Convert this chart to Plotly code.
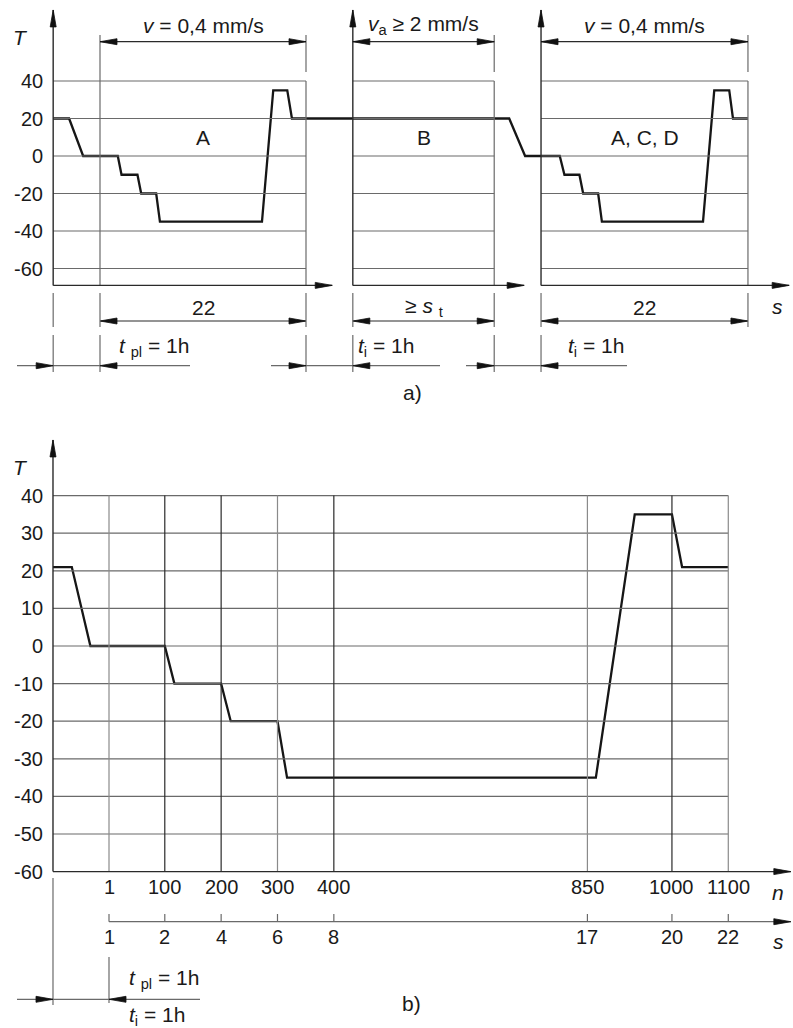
import plotly.graph_objects as go

W, H = 793, 1028

# ---------------- data: panel a (schematic, x in s-units, 22 = one run) -------------
A_T_TICKS = [40, 20, 0, -20, -40, -60]
A_SEG_AXIS = [-5.0, 27.0, 47.1]      # T axis of each block
A_SEG_START = [0.0, 27.0, 47.1]      # start of dimensioned span
A_SEG_END = [22.0, 42.1, 69.2]       # end of dimensioned span
A_AXIS_END = [24.8, 45.3, 73.6]      # arrow tips of the s axes
A_T_BOTTOM = -69
A_T_TOP = 77.9
A_U = [-5.0, -3.3, -1.8, 1.9, 2.3, 4.0, 4.4, 6.0, 6.4, 17.3, 18.5, 20.0, 20.5,
       43.7, 45.4, 49.1, 49.6, 51.2, 51.6, 53.2, 53.6, 64.4, 65.6, 67.2, 67.6, 69.2]
A_T = [20, 20, 0, 0, -10, -10, -20, -20, -35, -35, 35, 35, 20,
       20, 0, 0, -10, -10, -20, -20, -35, -35, 35, 35, 20, 20]
A_TOP_LABELS = ["<i>v</i> = 0,4 mm/s", "<i>v</i><sub>a</sub> ≥ 2 mm/s", "<i>v</i> = 0,4 mm/s"]
A_ZONE_LABELS = ["A", "B", "A, C, D"]
A_DIM_LABELS = ["22", "≥ <i>s</i> <sub>t</sub>", "22"]
A_TIME_LABELS = ["<i>t</i> <sub>pl</sub> = 1h", "<i>t</i><sub>i</sub> = 1h", "<i>t</i><sub>i</sub> = 1h"]

# ---------------- data: panel b ------------------------------------------------------
B_T_TICKS = [40, 30, 20, 10, 0, -10, -20, -30, -40, -50, -60]
B_N_TICKS = [1, 100, 200, 300, 400, 850, 1000, 1100]
B_N_LABELS = ["1", "100", "200", "300", "400", "850", "1000", "1100"]
B_S_LABELS = ["1", "2", "4", "6", "8", "17", "20", "22"]
B_N_DARK = [100, 200, 400, 1000]
B_N_AXIS = -98.4
B_N_END = 1211
B_T_TOP = 54.8
B_N = [-98.4, -65, -32, 100, 117, 200, 217, 300, 317, 865, 934, 1000, 1018, 1100]
B_T = [21, 21, 0, 0, -10, -10, -20, -20, -35, -35, 35, 35, 21, 21]

# ---------------- layout scales (px per unit) ---------------------------------------
AX0, AXS = 100.0, 206.0 / 22.0
AY0, AYS = 156.0, 1.875
BX0, BXS = 109.0, 0.5635
BY0, BYS = 646.0, 3.76

def ua(px): return (px - AX0) / AXS
def ta(py): return (AY0 - py) / AYS
def nb(px): return 1 + (px - BX0) / BXS
def tb(py): return (BY0 - py) / BYS

FONT = "Liberation Sans, Arial, sans-serif"
GRID = "#6a6a6a"
DARK = "#2a2a2a"
CURVE = "#161616"
LBL = 21
TCK = 20

shapes = []
annots = []

def line(x0, y0, x1, y1, ref, color=GRID, width=1.2):
    shapes.append(dict(type="line", x0=x0, y0=y0, x1=x1, y1=y1,
                       xref=ref[0], yref=ref[1],
                       line=dict(color=color, width=width)))

def tri(xt, yt, d, ref, sx, sy, L=17.0, hw=3.0):
    if d in ("r", "l"):
        bx = xt - L / sx if d == "r" else xt + L / sx
        pts = [(xt, yt), (bx, yt + hw / sy), (bx, yt - hw / sy)]
    else:
        by = yt - L / sy
        pts = [(xt, yt), (xt - hw / sx, by), (xt + hw / sx, by)]
    path = "M{},{} L{},{} L{},{} Z".format(*[v for p in pts for v in p])
    shapes.append(dict(type="path", path=path, xref=ref[0], yref=ref[1],
                       fillcolor="#111", line=dict(color="#111", width=0.8)))

def text(x, y, s, ref, size=LBL, xanchor="center", yanchor="middle", color="#1a1a1a"):
    annots.append(dict(x=x, y=y, text=s, xref=ref[0], yref=ref[1], showarrow=False,
                       xanchor=xanchor, yanchor=yanchor,
                       font=dict(family=FONT, size=size, color=color)))

RA = ("x", "y")
RB = ("x2", "y2")

# ================= panel a =================
T_EXT_TOP0, T_EXT_TOP1 = ta(35), ta(72)
T_DIM_TOP = ta(41.7)
T_EXT1 = (ta(293), ta(327))
T_EXT2 = (ta(335), ta(372))
T_DIM22 = ta(321)
T_TIME = ta(365.7)

for i in range(3):
    axx, s0, s1 = A_SEG_AXIS[i], A_SEG_START[i], A_SEG_END[i]
    for t in A_T_TICKS:
        line(axx, t, s1, t, RA)
    line(s1, A_T_TICKS[0], s1, A_T_BOTTOM, RA)
    line(s1, T_EXT_TOP0, s1, T_EXT_TOP1, RA)
    if s0 != axx:
        line(s0, T_EXT_TOP0, s0, A_T_BOTTOM, RA)
    line(axx, A_T_BOTTOM, A_AXIS_END[i], A_T_BOTTOM, RA, DARK, 1.4)
    tri(A_AXIS_END[i], A_T_BOTTOM, "r", RA, AXS, AYS)
    line(axx, A_T_BOTTOM, axx, A_T_TOP, RA, DARK, 1.4)
    tri(axx, A_T_TOP, "u", RA, AXS, AYS)
    line(s0, T_DIM_TOP, s1, T_DIM_TOP, RA, DARK, 1.2)
    tri(s0, T_DIM_TOP, "l", RA, AXS, AYS)
    tri(s1, T_DIM_TOP, "r", RA, AXS, AYS)
    text((s0 + s1) / 2, ta(25), A_TOP_LABELS[i], RA)
    text((s0 + s1) / 2, ta(137), A_ZONE_LABELS[i], RA)
    line(s0, T_DIM22, s1, T_DIM22, RA, DARK, 1.2)
    tri(s0, T_DIM22, "l", RA, AXS, AYS)
    tri(s1, T_DIM22, "r", RA, AXS, AYS)
    text((s0 + s1) / 2, ta(307), A_DIM_LABELS[i], RA)
    xs = [axx, s1] if s0 == axx else [axx, s0, s1]
    for x in xs:
        line(x, T_EXT1[0], x, T_EXT1[1], RA)
        if not (i == 2 and x == s1):
            line(x, T_EXT2[0], x, T_EXT2[1], RA)

for (p0, p1) in [(17, 190), (271, 440), (466, 627)]:
    line(ua(p0), T_TIME, ua(p1), T_TIME, RA, GRID, 1.2)
for x, d in [(A_SEG_AXIS[0], "r"), (A_SEG_START[0], "l"), (A_SEG_END[0], "r"),
             (A_SEG_AXIS[1], "l"), (A_SEG_END[1], "r"), (A_SEG_AXIS[2], "l")]:
    tri(x, T_TIME, d, RA, AXS, AYS)
for i, px in enumerate([117, 356, 566]):
    text(ua(px), ta(347), A_TIME_LABELS[i], RA, xanchor="left")

for t in A_T_TICKS:
    text(ua(45), t, str(t), RA, TCK, xanchor="right")
text(ua(20), ta(37), "<i>T</i>", RA)
text(ua(777), ta(306), "<i>s</i>", RA)
text(ua(412), ta(392), "a)", RA)

# ================= panel b =================
for t in B_T_TICKS[:-1]:
    line(B_N_AXIS, t, B_N_TICKS[-1], t, RB)
for n in B_N_TICKS:
    line(n, B_T_TICKS[-1], n, B_T_TICKS[0], RB, DARK if n in B_N_DARK else "#8a8a8a", 1.2)
line(B_N_AXIS, B_T_TICKS[-1], B_N_AXIS, B_T_TOP, RB, DARK, 1.4)
tri(B_N_AXIS, B_T_TOP, "u", RB, BXS, BYS)
line(B_N_AXIS, tb(878), B_N_AXIS, tb(1005), RB)
line(B_N_AXIS, B_T_TICKS[-1], B_N_END, B_T_TICKS[-1], RB, DARK, 1.4)
tri(B_N_END, B_T_TICKS[-1], "r", RB, BXS, BYS)
T_SAX = tb(921.7)
line(B_N_TICKS[0], T_SAX, B_N_END, T_SAX, RB, GRID, 1.2)
tri(B_N_END, T_SAX, "r", RB, BXS, BYS)
for n, ln, ls in zip(B_N_TICKS, B_N_LABELS, B_S_LABELS):
    line(n, T_SAX, n, tb(914), RB, GRID, 1.2)
    text(n, tb(887), ln, RB, TCK)
    text(n, tb(937), ls, RB, TCK)
line(B_N_TICKS[0], tb(957), B_N_TICKS[0], tb(1003), RB)
T_BT = tb(999.3)
line(nb(17), T_BT, nb(200), T_BT, RB, GRID, 1.2)
tri(B_N_AXIS, T_BT, "r", RB, BXS, BYS)
tri(B_N_TICKS[0], T_BT, "l", RB, BXS, BYS)
text(nb(127), tb(979), "<i>t</i> <sub>pl</sub> = 1h", RB, xanchor="left")
text(nb(127), tb(1016), "<i>t</i><sub>i</sub> = 1h", RB, xanchor="left")

for t in B_T_TICKS:
    text(nb(45), t, str(t), RB, TCK, xanchor="right")
text(nb(20), tb(467), "<i>T</i>", RB)
text(nb(778), tb(892), "<i>n</i>", RB)
text(nb(778), tb(941), "<i>s</i>", RB)
text(nb(411), tb(1003), "b)", RB)

fig = go.Figure()
fig.add_trace(go.Scatter(x=A_U, y=A_T, mode="lines", xaxis="x", yaxis="y",
                         line=dict(color=CURVE, width=2.3), hoverinfo="skip"))
fig.add_trace(go.Scatter(x=B_N, y=B_T, mode="lines", xaxis="x2", yaxis="y2",
                         line=dict(color=CURVE, width=2.3), hoverinfo="skip"))

ax_common = dict(visible=False, showgrid=False, zeroline=False, fixedrange=True)
fig.update_layout(
    width=W, height=H, margin=dict(l=0, r=0, t=0, b=0),
    paper_bgcolor="white", plot_bgcolor="rgba(0,0,0,0)", showlegend=False,
    xaxis=dict(domain=[0, 1], range=[ua(0), ua(W)], anchor="y", **ax_common),
    yaxis=dict(domain=[0, 1], range=[ta(H), ta(0)], anchor="x", **ax_common),
    xaxis2=dict(domain=[0, 1], range=[nb(0), nb(W)], anchor="y2", **ax_common),
    yaxis2=dict(domain=[0, 1], range=[tb(H), tb(0)], anchor="x2", overlaying="y", **ax_common),
    shapes=shapes, annotations=annots,
)
fig.write_html("out.html", config={"displayModeBar": False},
               post_script="document.body.style.margin='0';document.body.style.overflow='hidden';")
